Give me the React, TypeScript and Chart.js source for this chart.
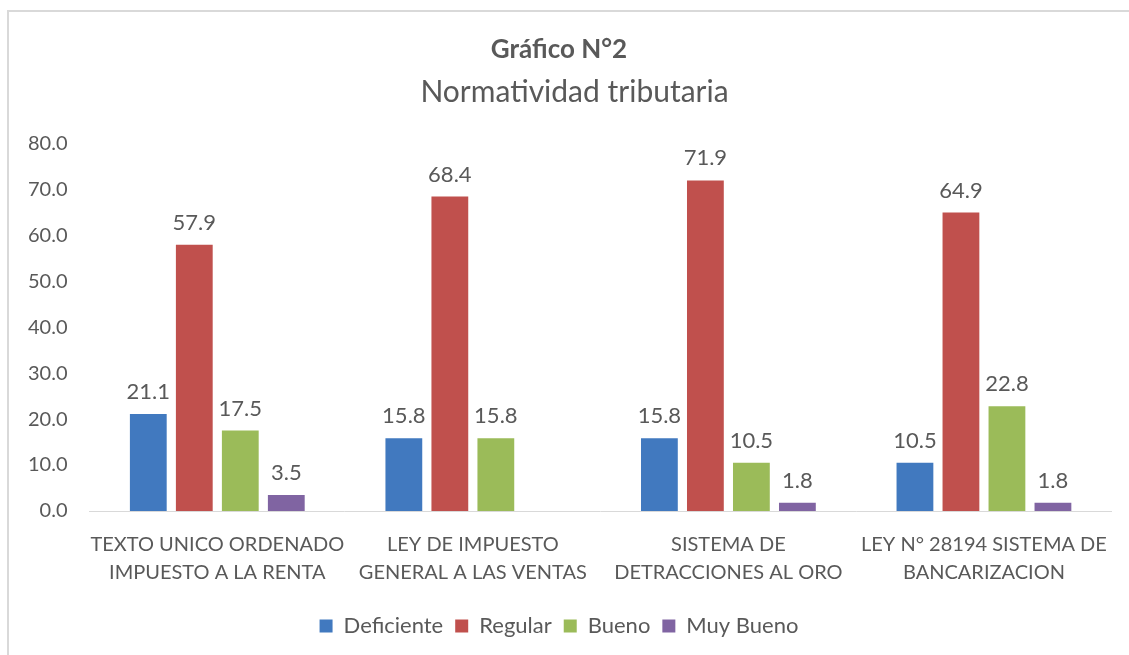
import React, { useEffect, useRef } from "react";
import { Chart, registerables } from "chart.js";

Chart.register(...registerables);

const categories: string[][] = [
  ["TEXTO UNICO ORDENADO", "IMPUESTO A LA RENTA"],
  ["LEY DE IMPUESTO", "GENERAL A LAS VENTAS"],
  ["SISTEMA DE", "DETRACCIONES AL ORO"],
  ["LEY N° 28194 SISTEMA DE", "BANCARIZACION"],
];
const deficiente: (number | null)[] = [21.1, 15.8, 15.8, 10.5];
const regular: (number | null)[] = [57.9, 68.4, 71.9, 64.9];
const bueno: (number | null)[] = [17.5, 15.8, 10.5, 22.8];
const muyBueno: (number | null)[] = [3.5, null, 1.8, 1.8];
const seriesNames = ["Deficiente", "Regular", "Bueno", "Muy Bueno"];
const seriesColors = ["#4179BF", "#C0504D", "#9BBB59", "#8064A2"];
const yTicks = [0, 10, 20, 30, 40, 50, 60, 70, 80];
const titleText = "Gráfico N°2";
const subtitleText = "Normatividad tributaria";

const FONT = "Lato, 'Open Sans', sans-serif";
const GRAY = "#595959";

const valueLabels = {
  id: "valueLabels",
  afterDatasetsDraw(chart: any) {
    const ctx = chart.ctx;
    ctx.save();
    ctx.font = `22px ${FONT}`;
    ctx.fillStyle = GRAY;
    ctx.textAlign = "center";
    ctx.textBaseline = "alphabetic";
    chart.data.datasets.forEach((ds: any, i: number) => {
      const meta = chart.getDatasetMeta(i);
      meta.data.forEach((bar: any, j: number) => {
        const v = ds.data[j];
        if (v === null || v === undefined) return;
        ctx.fillText(Number(v).toFixed(1), bar.x, bar.y - 15);
      });
    });
    ctx.restore();
  },
};

// Subtitle drawn slightly right of centre, as in the reference
const shiftedSubtitle = {
  id: "shiftedSubtitle",
  afterDraw(chart: any) {
    const ctx = chart.ctx;
    ctx.save();
    ctx.font = `30px ${FONT}`;
    ctx.fillStyle = GRAY;
    ctx.textAlign = "center";
    ctx.textBaseline = "middle";
    ctx.fillText(subtitleText, chart.width / 2 + 10, 92);
    ctx.restore();
  },
};

export default function App() {
  const ref = useRef<HTMLCanvasElement>(null);
  useEffect(() => {
    if (!ref.current) return;
    const data = [deficiente, regular, bueno, muyBueno];
    const chart = new Chart(ref.current, {
      type: "bar",
      data: {
        labels: categories,
        datasets: data.map((d, i) => ({
          label: seriesNames[i],
          data: d,
          backgroundColor: seriesColors[i],
          categoryPercentage: 0.72,
          barPercentage: 0.8,
        })),
      },
      options: {
        animation: false,
        responsive: true,
        maintainAspectRatio: false,
        layout: { padding: { left: 6, right: 17, top: 0, bottom: 8 } },
        scales: {
          x: {
            grid: { display: false, drawTicks: false },
            border: { display: true, color: "#D9D9D9", width: 1 },
            ticks: {
              color: GRAY,
              font: { family: FONT, size: 20, lineHeight: 1.4 },
              padding: 20,
              maxRotation: 0,
              autoSkip: false,
            },
            afterFit: (scale: any) => {
              scale.height -= 4;
            },
          },
          y: {
            min: 0,
            max: 80,
            afterBuildTicks: (scale: any) => {
              scale.ticks = yTicks.map((v) => ({ value: v }));
            },
            grid: { display: false, drawTicks: false },
            border: { display: false },
            ticks: {
              color: GRAY,
              font: { family: FONT, size: 20 },
              padding: 22,
              callback: (v: any) => Number(v).toFixed(1),
            },
          },
        },
        plugins: {
          title: {
            display: true,
            text: titleText,
            color: GRAY,
            font: { family: FONT, size: 26, weight: "bold", lineHeight: 1.2 },
            padding: { top: 34, bottom: 4 },
          },
          subtitle: {
            display: true,
            text: subtitleText,
            color: "rgba(0,0,0,0)",
            font: { family: FONT, size: 30, weight: "normal", lineHeight: 1.2 },
            padding: { top: 5, bottom: 33 },
          },
          legend: {
            position: "bottom",
            labels: {
              color: GRAY,
              font: { family: FONT, size: 22 },
              boxWidth: 13,
              boxHeight: 13,
              padding: 12,
            },
          },
          tooltip: { enabled: false },
        },
      },
      plugins: [valueLabels, shiftedSubtitle],
    } as any);
    return () => chart.destroy();
  }, []);

  return (
    <div
      style={{
        position: "fixed",
        left: 0,
        top: 0,
        width: 1129,
        height: 655,
        overflow: "hidden",
        background: "#fff",
      }}
    >
      <div
        style={{
          position: "absolute",
          left: 7,
          top: 10,
          width: 1200,
          height: 700,
          borderLeft: "2px solid #D9D9D9",
          borderTop: "2px solid #D9D9D9",
        }}
      />
      <div style={{ position: "absolute", left: 0, top: 0, width: 1129, height: 655 }}>
        <canvas ref={ref} />
      </div>
    </div>
  );
}
